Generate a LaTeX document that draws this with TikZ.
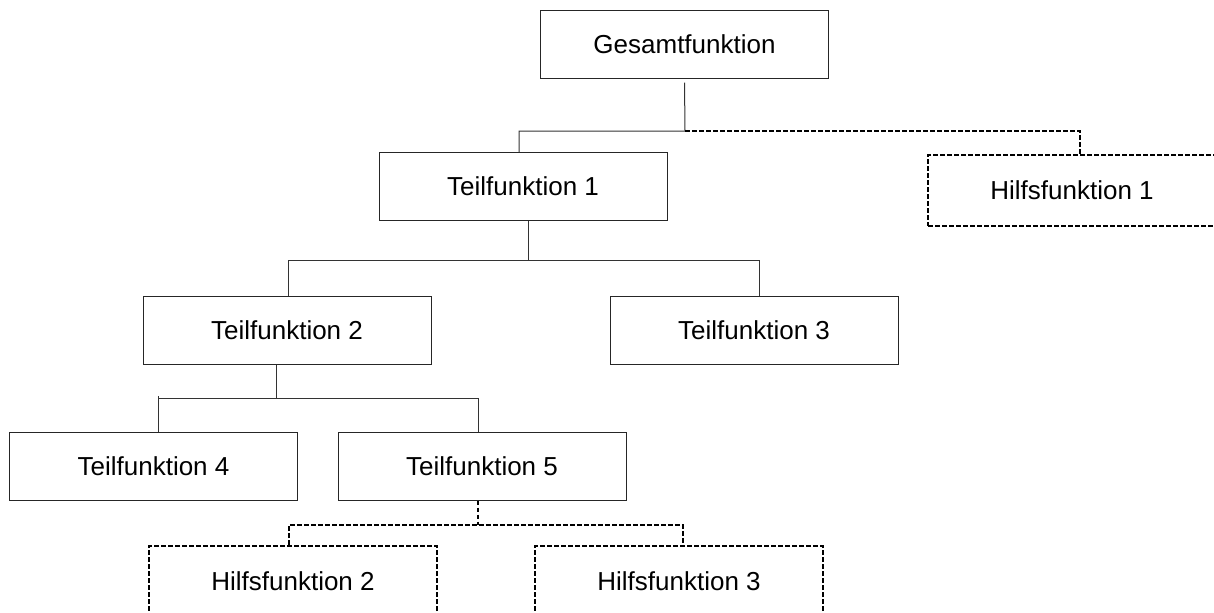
\documentclass[tikz,border=0pt]{standalone}
\usepackage{fontspec}
\setmainfont{Liberation Sans}
\begin{document}
\begin{tikzpicture}[x=0.5pt,y=-0.5pt,
  box/.style={draw=black!85, line width=0.5pt, minimum width=144pt, minimum height=34pt, inner sep=0pt, font=\fontsize{13}{15}\selectfont},
  dbox/.style={box, draw=black, line width=0.8pt, dash pattern=on 2.4pt off 1.1pt, minimum height=35.5pt},
  conn/.style={draw=black!80, line width=0.5pt},
  dconn/.style={draw=black, line width=0.8pt, dash pattern=on 2.4pt off 1.1pt}]
\useasboundingbox (0,0) rectangle (1214,612);
\clip (0,0) rectangle (1214,612);
\node[box] (G) at (684.5,44) {Gesamtfunktion};
\node[box] (T1) at (523,186.5) {Teilfunktion 1};
\node[dbox] (H1) at (1072,190.5) {Hilfsfunktion 1};
\node[box] (T2) at (287,330.5) {Teilfunktion 2};
\node[box] (T3) at (754,330.5) {Teilfunktion 3};
\node[box] (T4) at (153.5,466) {Teilfunktion 4};
\node[box] (T5) at (482,466) {Teilfunktion 5};
\node[dbox] (H2) at (293,581.5) {Hilfsfunktion 2};
\node[dbox] (H3) at (679,581.5) {Hilfsfunktion 3};
% level 0 -> 1
\coordinate (j0) at (685,131);
\draw[conn] ([yshift=-2pt]G.south) -- (j0) -| ([xshift=-2pt]T1.north);
\draw[dconn] (j0) -| ([xshift=4pt]H1.north);
% level 1 -> 2
\coordinate (j1) at (528,260);
\draw[conn] (T1.south -| j1) -- (j1);
\draw[conn] ([xshift=0.5pt]T2.north) |- (j1) -| ([xshift=2.5pt]T3.north);
% level 2 -> 3
\coordinate (j2) at (276,398);
\draw[conn] (T2.south -| j2) -- (j2);
\draw[conn] ([xshift=2.5pt]T4.north) -- ++(0,-36);
\draw[conn] ([xshift=2.5pt]T4.north |- j2) -- ([xshift=-2pt]T5.north |- j2) -- ([xshift=-2pt]T5.north);
% level 3 -> 4
\coordinate (j3) at (478,525);
\draw[dconn] (T5.south -| j3) -- (j3);
\draw[dconn] ([xshift=-2pt]H2.north) |- (j3) -| ([xshift=2pt]H3.north);
\end{tikzpicture}
\end{document}
